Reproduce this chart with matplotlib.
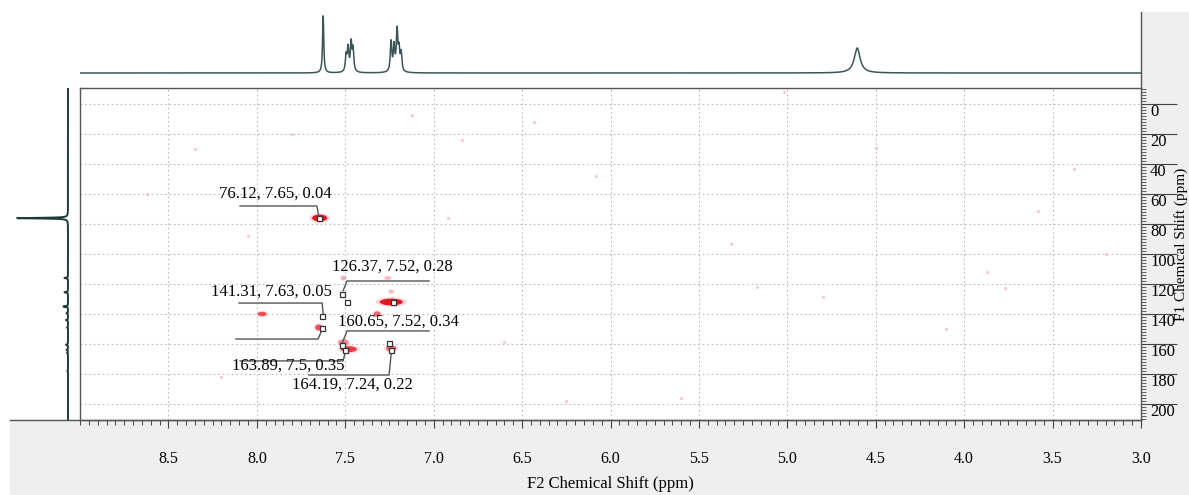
import matplotlib
matplotlib.use('Agg')
import numpy as np
import matplotlib.pyplot as plt
from matplotlib.patches import Ellipse, Rectangle
from matplotlib.lines import Line2D
from matplotlib.ticker import MultipleLocator

plt.rcParams['font.family'] = ['Liberation Serif', 'DejaVu Serif']

# 1H spectrum (top trace): peak ppm, height, half width
h_ppm = [7.625, 7.495, 7.484, 7.467, 7.456, 7.241, 7.224, 7.207, 7.196, 7.184, 4.605]
h_height = [57, 16, 23, 28, 22, 30, 25, 40, 20, 18, 25]
h_width = [0.004, 0.005, 0.005, 0.005, 0.005, 0.005, 0.005, 0.005, 0.005, 0.005, 0.02]

# 13C projection (left trace): peak ppm, height
c_ppm = [76.1, 116.0, 125.5, 135.0, 139.5, 144.0, 149.0, 160.5, 164.0, 166.0, 178.0]
c_height = [1.0, 0.07, 0.07, 0.09, 0.03, 0.04, 0.02, 0.04, 0.03, 0.02, 0.015]

# cross peaks: F2 (1H), F1 (13C), widths and strength
cp_f2 = [7.645, 7.240, 7.970, 7.650, 7.320, 7.510, 7.480, 7.240, 7.510, 7.260, 7.240]
cp_f1 = [76.0, 132.0, 140.0, 149.0, 140.0, 159.0, 163.5, 163.0, 116.0, 116.0, 125.0]
cp_w = [0.085, 0.13, 0.05, 0.04, 0.04, 0.06, 0.09, 0.06, 0.03, 0.04, 0.03]
cp_h = [4.5, 4.5, 3.0, 4.0, 3.5, 4.0, 4.0, 4.0, 3.0, 2.5, 2.5]
cp_level = [1.0, 1.0, 0.7, 0.7, 0.6, 0.45, 0.8, 0.6, 0.3, 0.25, 0.25]

# faint noise spots
noise_f2 = [7.12, 6.43, 6.84, 6.08, 6.92, 5.32, 5.17, 4.80, 3.87, 3.77, 3.58, 6.60,
            5.02, 4.50, 3.38, 8.05, 8.35, 8.62, 8.20, 6.25, 5.60, 4.10, 3.20, 7.80]
noise_f1 = [7, 12, 24, 48, 76, 93, 122, 129, 112, 123, 71, 159,
            -8, 29, 43, 88, 30, 60, 182, 198, 196, 150, 100, 20]

# picked peaks (square markers)
mk_f2 = [7.65, 7.52, 7.63, 7.52, 7.50, 7.24, 7.49, 7.23, 7.63, 7.25]
mk_f1 = [76.12, 126.37, 141.31, 160.65, 163.89, 164.19, 132.0, 132.0, 149.3, 159.3]

lab_text = ['76.12, 7.65, 0.04', '126.37, 7.52, 0.28', '141.31, 7.63, 0.05',
            '160.65, 7.52, 0.34', '163.89, 7.5, 0.35', '164.19, 7.24, 0.22']
lab_x = [7.897, 7.235, 7.92, 7.201, 7.824, 7.462]
lab_y = [60.0, 108.7, 125.3, 145.3, 174.7, 187.3]

# leader lines (F2, F1 vertices)
leaders = [
    ([8.095, 7.66, 7.65], [68.0, 68.0, 75.0]),
    ([7.026, 7.49, 7.512], [118.0, 118.0, 124.5]),
    ([8.101, 7.631, 7.625], [132.7, 132.7, 139.5]),
    ([7.026, 7.49, 7.515], [151.3, 151.3, 158.8]),
    ([8.095, 7.512, 7.50], [171.3, 171.3, 165.5]),
    ([7.705, 7.252, 7.24], [180.7, 180.7, 166.0]),
    ([8.118, 7.654, 7.632], [156.7, 156.7, 150.8]),
]

W, H = 1189, 495
fig = plt.figure(figsize=(W / 100, H / 100), dpi=100)


def fx(px):
    return px / W


def fy(py):
    return 1 - py / H


# grey panels
fig.add_artist(Rectangle((fx(10), 0), 1 - fx(10), fy(420), transform=fig.transFigure,
                         color='#efefef', zorder=-5))
fig.add_artist(Rectangle((fx(1141), 0), 1 - fx(1141), fy(12), transform=fig.transFigure,
                         color='#efefef', zorder=-5))
fig.add_artist(Line2D([fx(10), fx(1141)], [fy(420), fy(420)], transform=fig.transFigure,
                      color='#555555', lw=1))
fig.add_artist(Line2D([fx(1141), fx(1141)], [fy(12), fy(88)], transform=fig.transFigure,
                      color='#555555', lw=1))

# main 2D plot
ax = fig.add_axes([fx(80), fy(420), fx(1141) - fx(80), fy(88) - fy(420)])
ax.set_xlim(9.0, 3.0)
ax.set_ylim(210.7, -10.7)

ax.scatter(noise_f2, noise_f1, s=5, color='#f5a3b3', alpha=0.6, lw=0, zorder=2)

for x, y, w, h, lv in zip(cp_f2, cp_f1, cp_w, cp_h, cp_level):
    ax.add_patch(Ellipse((x, y), w * 1.35, h * 1.4, color='#ff9aaa', alpha=0.45 * lv, lw=0, zorder=3))
    ax.add_patch(Ellipse((x, y), w, h, color='#e8151f', alpha=lv, lw=0, zorder=4))

for xs, ys in leaders:
    ax.plot(xs, ys, color='#555555', lw=1, zorder=5)

ax.plot(mk_f2, mk_f1, ls='none', marker='s', ms=3.6, mfc='white', mec='#333333', mew=0.9, zorder=6)

for t, x, y in zip(lab_text, lab_x, lab_y):
    ax.text(x, y, t, fontsize=12, ha='center', va='center', zorder=7)

ax.set_xticks(np.arange(3.0, 8.51, 0.5))
ax.xaxis.set_minor_locator(MultipleLocator(0.05))
ax.xaxis.set_major_formatter('{x:.1f}')
ax.yaxis.set_major_locator(MultipleLocator(20))
ax.yaxis.set_minor_locator(MultipleLocator(2))
ax.yaxis.tick_right()
ax.yaxis.set_label_position('right')

ax.tick_params(axis='x', which='major', direction='out', length=6, width=0.8,
               color='#444444', pad=16, labelsize=11.5)
ax.tick_params(axis='x', which='minor', direction='out', length=3.5, width=0.7, color='#444444')
ax.tick_params(axis='y', which='major', direction='out', length=26, width=0.8,
               color='#444444', pad=-19.5, labelsize=12)
ax.tick_params(axis='y', which='minor', direction='out', length=3.5, width=0.6, color='#444444')
for lab in ax.get_yticklabels():
    lab.set_va('top')

ax.grid(True, which='major', linestyle=(0, (1.5, 2.5)), color='#bdbdbd', lw=0.8)
ax.set_axisbelow(True)
for sp in ax.spines.values():
    sp.set_color('#555555')
    sp.set_linewidth(1)

ax.set_xlabel('F2 Chemical Shift (ppm)', fontsize=12, labelpad=7)
ax.set_ylabel('F1 Chemical Shift (ppm)', fontsize=11, rotation=90)
ax.yaxis.set_label_coords(1.031, 0.53)

# top 1H trace
axt = fig.add_axes([fx(80), fy(86), fx(1141) - fx(80), fy(0) - fy(86)])
axt.set_facecolor('none')
ppm = np.linspace(9.0, 3.0, 6001)
spec = np.zeros_like(ppm)
for p, hh, w in zip(h_ppm, h_height, h_width):
    spec += hh * w ** 2 / ((ppm - p) ** 2 + w ** 2)
axt.plot(ppm, spec, color='#3b5656', lw=1.1)
axt.set_xlim(9.0, 3.0)
axt.set_ylim(-13, 73)
axt.axis('off')

# left 13C projection
axl = fig.add_axes([fx(10), fy(420), fx(80) - fx(10), fy(88) - fy(420)])
axl.set_facecolor('none')
f1 = np.linspace(-10.7, 210.7, 8001)
proj = np.zeros_like(f1)
for p, hh in zip(c_ppm, c_height):
    proj += hh * 0.25 ** 2 / ((f1 - p) ** 2 + 0.25 ** 2)
axl.plot(proj, f1, color='#1e3b3b', lw=1.4)
axl.set_xlim(1.137, -0.235)
axl.set_ylim(210.7, -10.7)
axl.axis('off')

fig.savefig('out.png', dpi=100)
